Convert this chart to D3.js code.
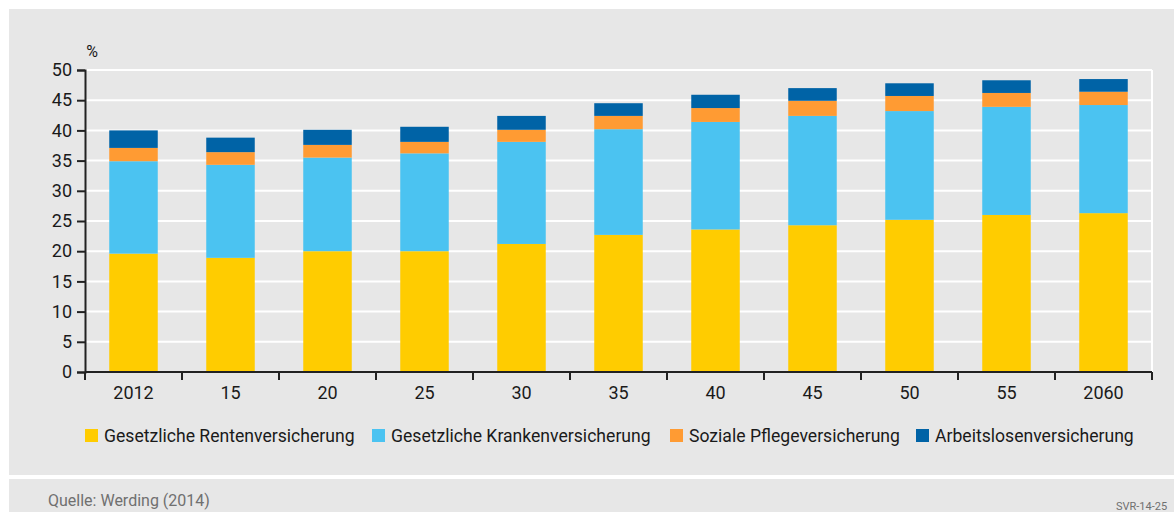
<!DOCTYPE html>
<html>
<head>
<meta charset="utf-8">
<script src="https://cdn.jsdelivr.net/npm/d3@7"></script>
<style>
  body { margin: 0; background: #fff; }
  svg text { font-family: Roboto, "Liberation Sans", sans-serif; }
</style>
</head>
<body>
<svg id="chart" width="1174" height="512"></svg>
<script>
// categories and series (percent of gross wage)
const years = ["2012", "15", "20", "25", "30", "35", "40", "45", "50", "55", "2060"];
const rente   = [19.6, 18.9, 20.0, 20.0, 21.2, 22.7, 23.6, 24.3, 25.2, 26.0, 26.3];
const kranken = [15.3, 15.4, 15.5, 16.2, 16.9, 17.5, 17.8, 18.1, 18.0, 17.9, 17.9];
const pflege  = [2.2, 2.1, 2.1, 1.9, 2.0, 2.2, 2.3, 2.5, 2.5, 2.3, 2.2];
const arbeit  = [2.9, 2.4, 2.5, 2.5, 2.3, 2.1, 2.2, 2.1, 2.1, 2.1, 2.1];
const seriesNames = ["Gesetzliche Rentenversicherung", "Gesetzliche Krankenversicherung",
                     "Soziale Pflegeversicherung", "Arbeitslosenversicherung"];
const seriesKeys = ["rente", "kranken", "pflege", "arbeit"];
const colors = ["#ffcc00", "#4bc3f1", "#ff9b33", "#0063a6"];
const yTicks = [0, 5, 10, 15, 20, 25, 30, 35, 40, 45, 50];

const svg = d3.select("#chart");

// panels
svg.append("rect").attr("x", 9).attr("y", 9).attr("width", 1165).attr("height", 466).attr("fill", "#e7e7e7");
svg.append("rect").attr("x", 9).attr("y", 479).attr("width", 1165).attr("height", 33).attr("fill", "#e7e7e7");

const mLeft = 85, mRight = 1152, mTop = 70, mBottom = 372;

const x = d3.scaleBand().domain(years).range([mLeft, mRight]).paddingInner(0.5).paddingOuter(0.25);
const y = d3.scaleLinear().domain([0, 50]).range([mBottom, mTop]);

// gridlines
svg.append("g").selectAll("line").data(yTicks.filter(d => d > 0)).enter().append("line")
    .attr("x1", mLeft).attr("x2", mRight)
    .attr("y1", d => y(d)).attr("y2", d => y(d))
    .attr("stroke", "#fff").attr("stroke-width", 2);
svg.append("line").attr("x1", mRight).attr("x2", mRight).attr("y1", y(50)).attr("y2", y(0))
    .attr("stroke", "#fff").attr("stroke-width", 2);

// stacked bars
const table = years.map((yr, i) => ({year: yr, rente: rente[i], kranken: kranken[i], pflege: pflege[i], arbeit: arbeit[i]}));
const stacked = d3.stack().keys(seriesKeys)(table);

svg.append("g").selectAll("g").data(stacked).enter().append("g")
    .attr("fill", (d, i) => colors[i])
    .selectAll("rect").data(d => d).enter().append("rect")
    .attr("x", d => x(d.data.year))
    .attr("width", x.bandwidth())
    .attr("y", d => y(d[1]))
    .attr("height", d => y(d[0]) - y(d[1]));

// y axis
const yAxis = svg.append("g").attr("transform", `translate(${mLeft},0)`)
    .call(d3.axisLeft(y).tickValues(yTicks).tickSize(8).tickPadding(5));
yAxis.select(".domain").attr("stroke", "#222").attr("stroke-width", 2);
yAxis.selectAll(".tick line").attr("stroke", "#222").attr("stroke-width", 2);
yAxis.selectAll("text").attr("font-size", 18).attr("fill", "#1a1a1a");

svg.append("text").attr("x", 92).attr("y", 57).attr("text-anchor", "middle")
    .attr("font-size", 16).attr("fill", "#1a1a1a").text("%");

// x axis: labels centered, ticks on band boundaries
const xAxis = svg.append("g").attr("transform", `translate(0,${mBottom})`)
    .call(d3.axisBottom(x).tickSize(0).tickPadding(14));
xAxis.select(".domain").remove();
xAxis.selectAll("text").attr("font-size", 18).attr("fill", "#1a1a1a");
svg.append("line").attr("x1", mLeft).attr("x2", mRight).attr("y1", mBottom).attr("y2", mBottom)
    .attr("stroke", "#222").attr("stroke-width", 2);
svg.append("g").selectAll("line").data(d3.range(years.length + 1)).enter().append("line")
    .attr("x1", i => mLeft + i * x.step()).attr("x2", i => mLeft + i * x.step())
    .attr("y1", mBottom).attr("y2", mBottom + 8)
    .attr("stroke", "#222").attr("stroke-width", 2);

// legend
const legendX = [85, 372, 670, 916];
const lg = svg.append("g").selectAll("g").data(seriesNames).enter().append("g")
    .attr("transform", (d, i) => `translate(${legendX[i]},429)`);
lg.append("rect").attr("width", 13).attr("height", 13).attr("fill", (d, i) => colors[i]);
lg.append("text").attr("x", 19).attr("y", 12.5).attr("font-size", 17.6).attr("fill", "#1a1a1a").text(d => d);

// footer
svg.append("text").attr("x", 48).attr("y", 506).attr("font-size", 16).attr("fill", "#707070")
    .text("Quelle: Werding (2014)");
svg.append("text").attr("x", 1116).attr("y", 510).attr("font-size", 11).attr("fill", "#707070")
    .text("SVR-14-25");
</script>
</body>
</html>
